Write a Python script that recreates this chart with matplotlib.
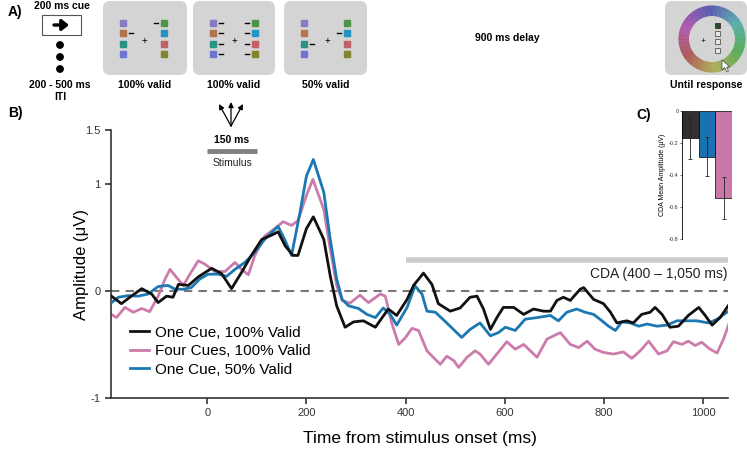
import colorsys
import matplotlib
matplotlib.use('Agg')
import matplotlib.pyplot as plt
from matplotlib.patches import FancyBboxPatch, Rectangle, Circle, Wedge, Polygon

plt.rcParams['font.family'] = ['Liberation Sans', 'DejaVu Sans']

# ERP traces (time in ms, amplitude in uV)
t_one100 = [-193, -173, -153, -132, -112, -99, -82, -69, -58, -38, -18, 9, 29, 49, 69, 89, 110,
            130, 143, 157, 173, 183, 200, 214, 235, 248, 261, 278, 295, 315, 339, 365, 382, 403,
            416, 436, 453, 466, 490, 510, 530, 544, 557, 571, 584, 597, 618, 638, 658, 678, 692,
            705, 718, 732, 752, 759, 779, 799, 813, 826, 846, 859, 876, 893, 903, 917, 933, 950,
            970, 991, 1004, 1018, 1034, 1054]
v_one100 = [-0.05, -0.12, -0.05, 0.02, -0.03, -0.11, -0.05, -0.06, 0.06, 0.05, 0.13, 0.21, 0.16,
            0.02, 0.17, 0.33, 0.48, 0.52, 0.55, 0.42, 0.33, 0.33, 0.58, 0.69, 0.48, 0.14, -0.14,
            -0.34, -0.29, -0.28, -0.34, -0.17, -0.23, -0.08, 0.05, 0.165, 0.06, -0.12, -0.19,
            -0.16, -0.06, -0.05, -0.17, -0.36, -0.25, -0.155, -0.155, -0.22, -0.17, -0.19, -0.19,
            -0.09, -0.06, -0.09, 0.015, 0.03, -0.08, -0.12, -0.2, -0.3, -0.28, -0.3, -0.22, -0.2,
            -0.155, -0.22, -0.34, -0.33, -0.23, -0.155, -0.23, -0.32, -0.25, -0.115]

t_four100 = [-193, -183, -166, -149, -132, -116, -99, -85, -75, -62, -48, -35, -18, -5, 15, 36,
             56, 69, 83, 96, 116, 136, 153, 170, 183, 200, 213, 235, 248, 261, 272, 288, 308, 325,
             349, 359, 372, 386, 399, 413, 426, 443, 460, 470, 483, 497, 507, 524, 540, 550, 567,
             584, 604, 621, 638, 665, 685, 712, 732, 749, 766, 782, 799, 819, 839, 856, 873, 890,
             910, 927, 940, 957, 970, 984, 997, 1014, 1028, 1041, 1054]
v_four100 = [-0.22, -0.25, -0.155, -0.2, -0.165, -0.195, -0.05, 0.11, 0.2, 0.125, 0.05, 0.155,
             0.28, 0.25, 0.18, 0.18, 0.265, 0.2, 0.15, 0.33, 0.51, 0.58, 0.645, 0.61, 0.655, 0.89,
             1.04, 0.76, 0.39, 0.05, -0.09, -0.115, -0.04, -0.11, -0.03, -0.05, -0.3, -0.5, -0.44,
             -0.35, -0.37, -0.56, -0.64, -0.685, -0.61, -0.65, -0.715, -0.62, -0.56, -0.59, -0.685,
             -0.59, -0.475, -0.545, -0.5, -0.62, -0.45, -0.39, -0.5, -0.53, -0.47, -0.545, -0.575,
             -0.59, -0.57, -0.63, -0.56, -0.47, -0.59, -0.56, -0.475, -0.5, -0.47, -0.51, -0.48,
             -0.545, -0.58, -0.45, -0.28]

t_one50 = [-193, -179, -159, -139, -119, -99, -79, -65, -48, -32, -15, 2, 22, 39, 56, 76, 96, 116,
           130, 143, 157, 170, 187, 200, 214, 235, 248, 261, 272, 285, 305, 322, 339, 355, 369,
           382, 403, 419, 433, 443, 460, 483, 503, 513, 530, 550, 571, 587, 601, 621, 641, 665,
           692, 708, 725, 745, 762, 779, 796, 809, 823, 836, 853, 870, 887, 907, 927, 947, 967,
           987, 1011, 1028, 1054]
v_one50 = [-0.11, -0.06, -0.045, -0.05, -0.03, 0.04, 0.05, 0.015, 0.015, 0.03, 0.11, 0.155,
           0.155, 0.135, 0.2, 0.265, 0.36, 0.48, 0.545, 0.6, 0.47, 0.33, 0.73, 1.07, 1.225, 0.92,
           0.48, 0.11, -0.08, -0.14, -0.165, -0.22, -0.25, -0.16, -0.22, -0.32, -0.155, 0.045,
           -0.03, -0.19, -0.2, -0.3, -0.39, -0.435, -0.36, -0.3, -0.42, -0.39, -0.34, -0.37,
           -0.265, -0.25, -0.23, -0.28, -0.2, -0.17, -0.2, -0.22, -0.28, -0.33, -0.37, -0.29,
           -0.3, -0.33, -0.31, -0.33, -0.32, -0.28, -0.28, -0.28, -0.3, -0.265, -0.18]

labels = ['One Cue, 100% Valid', 'Four Cues, 100% Valid', 'One Cue, 50% Valid']
colors = ['#111111', '#cc7bab', '#1b78b2']

# panel C: mean CDA amplitude and error
bar_means = [-0.17, -0.285, -0.543]
bar_err = [0.13, 0.12, 0.133]
bar_colors = ['#303030', '#1a72b3', '#c978a9']

fig = plt.figure(figsize=(7.47, 4.49), dpi=100)

# overlay in pixel coordinates for the task schematic
ov = fig.add_axes([0, 0, 1, 1])
ov.set_xlim(0, 747)
ov.set_ylim(449, 0)
ov.axis('off')

bold = dict(fontsize=7.5, fontweight='bold', ha='center', va='center')
ov.text(8, 12, 'A)', fontsize=10, fontweight='bold', va='center')
ov.text(8, 113, 'B)', fontsize=10, fontweight='bold', va='center')
ov.text(636, 115, 'C)', fontsize=10, fontweight='bold', va='center')

# cue box
ov.text(62, 6, '200 ms cue', **bold)
ov.add_patch(Rectangle((42, 15), 39, 20, facecolor='white', edgecolor='#555555', lw=0.8))
ov.annotate('', xy=(69, 25), xytext=(54, 25),
            arrowprops=dict(arrowstyle='-|>,head_width=0.32,head_length=0.4', lw=2.4,
                            color='black', shrinkA=0, shrinkB=0))
for yy in [45, 57, 69]:
    ov.add_patch(Circle((60, yy), 3.2, color='black'))
ov.text(60, 85, '200 - 500 ms', **bold)
ov.text(60, 97, 'ITI', **bold)

left_cols = ['#8a7ac4', '#b5744c', '#2b9284', '#6f74d4']
right_cols = ['#4d9448', '#2394c4', '#c26266', '#85832f']
rows = [23, 33, 43.5, 54]
boxes = [(103, 187, 123, 164, 144, [1], [0]),
         (193, 275, 213, 255, 234, [0, 1, 2, 3], [0, 1, 2, 3]),
         (284, 367, 304, 347, 327, [2], [1])]
for x0, x1, lx, rx, px, ldash, rdash in boxes:
    ov.add_patch(FancyBboxPatch((x0 + 7, 8), x1 - x0 - 14, 60, boxstyle='round,pad=7',
                                facecolor='#d4d4d4', edgecolor='none'))
    for i, yy in enumerate(rows):
        ov.add_patch(Rectangle((lx - 3, yy - 3), 6, 6, color=left_cols[i]))
        ov.add_patch(Rectangle((rx - 3, yy - 3), 6, 6, color=right_cols[i]))
        if i in ldash:
            ov.plot([lx + 6, lx + 10], [yy, yy], color='black', lw=1)
        if i in rdash:
            ov.plot([rx - 10, rx - 6], [yy, yy], color='black', lw=1)
    ov.text(px, 41, '+', fontsize=7, ha='center', va='center')
    ov.text((x0 + x1) / 2, 85, '100% valid' if x0 < 280 else '50% valid', **bold)

ov.text(507, 38, '900 ms delay', **bold)

# response screen with colour wheel
ov.add_patch(FancyBboxPatch((672, 8), 68, 60, boxstyle='round,pad=7',
                            facecolor='#d4d4d4', edgecolor='none'))
for a in range(0, 360, 3):
    hue = (0.4 - a / 360.0) % 1.0
    rgb = colorsys.hsv_to_rgb(hue, 0.5, 0.68)
    ov.add_patch(Wedge((712, 39), 33.5, a, a + 3.5, width=10.5, color=rgb, lw=0))
ov.text(703, 41, '+', fontsize=6, ha='center', va='center')
for i, yy in enumerate([25, 33, 41.5, 50]):
    ov.add_patch(Rectangle((715, yy - 2.5), 5, 5, facecolor='#2e4a2e' if i == 0 else '#e6e6e6',
                           edgecolor='#333333' if i == 0 else '#555555', lw=0.6))
ov.add_patch(Polygon([(722, 60), (722, 70), (724.5, 67.5), (727, 72), (728.5, 71),
                      (726.5, 67), (730, 67)], closed=True, facecolor='white',
                     edgecolor='#444444', lw=0.5))
ov.text(706, 85, 'Until response', **bold)

# stimulus arrows
for tx, ty in [(219, 104), (231, 102), (243, 104)]:
    ov.annotate('', xy=(tx, ty), xytext=(231, 126),
                arrowprops=dict(arrowstyle='-|>,head_width=0.15,head_length=0.3', lw=0.9,
                                color='black', shrinkA=0, shrinkB=0))

# panel B: ERP traces
ax = fig.add_axes([111 / 747, 1 - 398 / 449, 617 / 747, 268 / 449])
ax.axhline(0, color='#777777', lw=1.5, dashes=(4, 3), zorder=1)
ax.plot(t_one100, v_one100, color=colors[0], lw=2, label=labels[0], zorder=4)
ax.plot(t_four100, v_four100, color=colors[1], lw=2, label=labels[1], zorder=2)
ax.plot(t_one50, v_one50, color=colors[2], lw=2, label=labels[2], zorder=3)

ax.hlines(0.287, 400, 1050, color='#cccccc', lw=4)
ax.text(1048, 0.155, 'CDA (400 \u2013 1,050 ms)', fontsize=10, ha='right', va='center',
        color='#222222')
ax.hlines(1.305, 0, 100, color='#808080', lw=3.5)
ax.text(50, 1.41, '150 ms', fontsize=7.5, fontweight='bold', ha='center', va='center')
ax.text(50, 1.19, 'Stimulus', fontsize=7.5, ha='center', va='center', color='#222222')

ax.set_xlim(-194, 1050)
ax.set_ylim(-1, 1.5)
ax.set_xticks([0, 200, 400, 600, 800, 1000])
ax.set_yticks([-1, 0, 1, 1.5])
ax.set_yticklabels(['-1', '0', '1', '1.5'])
ax.tick_params(labelsize=8, colors='#333333', length=4, width=1.2)
for s in ['top', 'right']:
    ax.spines[s].set_visible(False)
for s in ['left', 'bottom']:
    ax.spines[s].set_color('#333333')
    ax.spines[s].set_linewidth(1.2)
ax.patch.set_alpha(0)
ax.set_xlabel('Time from stimulus onset (ms)', fontsize=12.5, labelpad=9)
ax.set_ylabel('Amplitude (\u03bcV)', fontsize=12, labelpad=-3)
ax.legend(loc='upper left', bbox_to_anchor=(0.03, 0.27), frameon=False, fontsize=11,
          handlelength=1.3, handletextpad=0.4, labelspacing=0.3, borderpad=0,
          borderaxespad=0)

# panel C: mean CDA amplitude
axc = fig.add_axes([682 / 747, 1 - 239 / 449, 50 / 747, 128 / 449])
axc.bar(range(3), bar_means, width=1, color=bar_colors, edgecolor='black', lw=0.5,
        yerr=bar_err, error_kw=dict(ecolor='#222222', elinewidth=0.6, capsize=1.2,
                                    capthick=0.6))
axc.set_xlim(-0.5, 2.5)
axc.set_ylim(-0.8, 0)
axc.set_xticks([])
axc.set_yticks([0, -0.2, -0.4, -0.6, -0.8])
axc.set_yticklabels(['0', '-0.2', '-0.4', '-0.6', '-0.8'])
axc.tick_params(labelsize=4, length=1.5, width=0.5, pad=1, colors='#333333')
for s in ['top', 'right', 'bottom']:
    axc.spines[s].set_visible(False)
axc.spines['left'].set_linewidth(0.6)
axc.set_ylabel('CDA Mean Amplitude (\u03bcV)', fontsize=5, labelpad=2)

fig.savefig('out.png', dpi=100)
